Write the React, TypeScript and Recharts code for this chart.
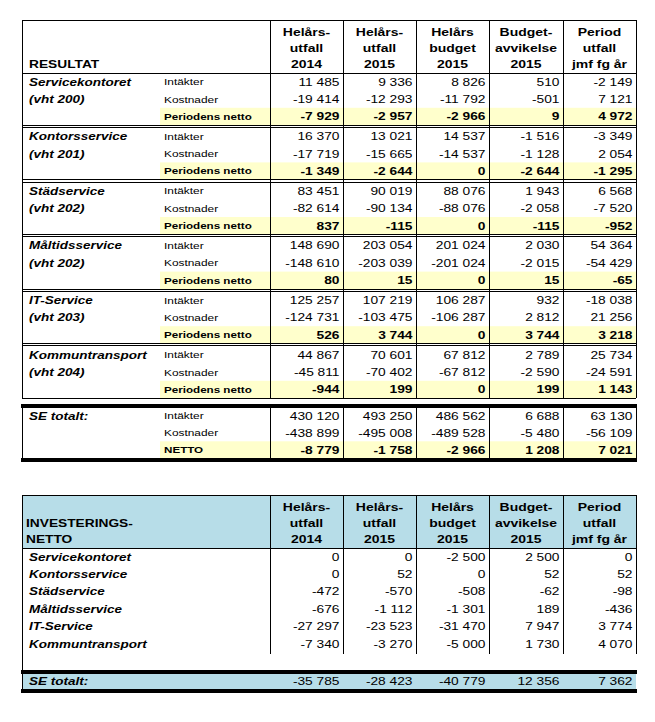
import React from 'react'
import { Surface, Layer } from 'recharts'

// resultat table
const resultGroups = ['Servicekontoret', 'Kontorsservice', 'Städservice', 'Måltidsservice', 'IT-Service', 'Kommuntransport']
const resultCodes = ['(vht 200)', '(vht 201)', '(vht 202)', '(vht 202)', '(vht 203)', '(vht 204)']
const intakter = [
  [11485, 9336, 8826, 510, -2149],
  [16370, 13021, 14537, -1516, -3349],
  [83451, 90019, 88076, 1943, 6568],
  [148690, 203054, 201024, 2030, 54364],
  [125257, 107219, 106287, 932, -18038],
  [44867, 70601, 67812, 2789, 25734],
]
const kostnader = [
  [-19414, -12293, -11792, -501, 7121],
  [-17719, -15665, -14537, -1128, 2054],
  [-82614, -90134, -88076, -2058, -7520],
  [-148610, -203039, -201024, -2015, -54429],
  [-124731, -103475, -106287, 2812, 21256],
  [-45811, -70402, -67812, -2590, -24591],
]
const netto = [
  [-7929, -2957, -2966, 9, 4972],
  [-1349, -2644, 0, -2644, -1295],
  [837, -115, 0, -115, -952],
  [80, 15, 0, 15, -65],
  [526, 3744, 0, 3744, 3218],
  [-944, 199, 0, 199, 1143],
]
const seIntakter = [430120, 493250, 486562, 6688, 63130]
const seKostnader = [-438899, -495008, -489528, -5480, -56109]
const seNetto = [-8779, -1758, -2966, 1208, 7021]

// investeringar table
const investLabels = ['Servicekontoret', 'Kontorsservice', 'Städservice', 'Måltidsservice', 'IT-Service', 'Kommuntransport']
const investValues = [
  [0, 0, -2500, 2500, 0],
  [0, 52, 0, 52, 52],
  [-472, -570, -508, -62, -98],
  [-676, -1112, -1301, 189, -436],
  [-27297, -23523, -31470, 7947, 3774],
  [-7340, -3270, -5000, 1730, 4070],
]
const investTotal = [-35785, -28423, -40779, 12356, 7362]

const headerLines = [
  ['Helårs-', 'utfall', '2014'],
  ['Helårs-', 'utfall', '2015'],
  ['Helårs', 'budget', '2015'],
  ['Budget-', 'avvikelse', '2015'],
  ['Period', 'utfall', 'jmf fg år'],
]

const W = 655
const H = 722
const SX = 1.25
const FONT = 'Liberation Sans, Arial, sans-serif'
const YELLOW = '#ffffcc'
const BLUE = '#b7dde8'

const X0 = 22
const XSUB = 164
const COLS = [270, 343, 416, 489, 563, 636]
const ROW = 17.4

const fmt = (v: number) => {
  const s = Math.abs(v).toString().replace(/\B(?=(\d{3})+(?!\d))/g, ' ')
  return (v < 0 ? '-' : '') + s
}

function T({ x, y, size, bold, italic, anchor = 'start', children }: any) {
  return (
    <text
      transform={`translate(${x},${y}) scale(${SX},1)`}
      fontSize={size}
      fontWeight={bold ? 'bold' : 'normal'}
      fontStyle={italic ? 'italic' : 'normal'}
      textAnchor={anchor}
      fontFamily={FONT}
      fill="#000"
    >
      {children}
    </text>
  )
}

function L({ x1, y1, x2, y2, w = 1 }: any) {
  return <line x1={x1} y1={y1} x2={x2} y2={y2} stroke="#000" strokeWidth={w} shapeRendering="crispEdges" />
}

// baseline for text centered on row middle
const base = (c: number, size: number) => c + size * 0.36

function NumRow({ values, center, bold }: { values: number[]; center: number; bold?: boolean }) {
  return (
    <>
      {values.map((v, i) => (
        <T key={i} x={COLS[i + 1] - 3.5} y={base(center, 11)} size={11} bold={bold} anchor="end">
          {fmt(v)}
        </T>
      ))}
    </>
  )
}

function Header({ top }: { top: number }) {
  return (
    <>
      {headerLines.map((lines, i) =>
        lines.map((t, j) => (
          <T key={`${i}-${j}`} x={(COLS[i] + COLS[i + 1]) / 2} y={top + 15.5 + j * 16.2} size={11.2} bold anchor="middle">
            {t}
          </T>
        ))
      )}
    </>
  )
}

function VLines({ y1, y2, withLeft = true }: { y1: number; y2: number; withLeft?: boolean }) {
  return (
    <>
      {withLeft && <L x1={X0} y1={y1} x2={X0} y2={y2} />}
      {COLS.map((x) => (
        <L key={x} x1={x} y1={y1} x2={x} y2={y2} />
      ))}
    </>
  )
}

export default function App() {
  const T1 = 20
  const H1 = 73
  const PITCH = 54.6
  const groupTop = (g: number) => H1 + g * PITCH
  const lastEnd = groupTop(5) + 3 * ROW
  const seTop = 407.5
  const seRow = 16.9

  const T2 = 495
  const H2 = 548
  const invEnd = H2 + 6 * ROW
  const tot1 = 672
  const tot2 = 691

  return (
    <Surface width={W} height={H} style={{ position: 'absolute', left: 0, top: 0, background: '#fff' }}>
      <rect x={0} y={0} width={W} height={H} fill="#fff" />

      {/* ---------- RESULTAT ---------- */}
      <Layer>
        {resultGroups.map((_, g) => (
          <rect key={g} x={160} y={groupTop(g) + 2 * ROW} width={COLS[5] - 160} height={ROW} fill={YELLOW} />
        ))}
        <rect x={160} y={seTop + 2 * seRow} width={COLS[5] - 160} height={seRow} fill={YELLOW} />

        <L x1={X0} y1={T1} x2={COLS[5]} y2={T1} />
        <L x1={X0} y1={H1} x2={COLS[5]} y2={H1} />
        {resultGroups.map((_, g) =>
          g < 5 ? (
            <React.Fragment key={g}>
              <L x1={X0} y1={groupTop(g) + 3 * ROW} x2={COLS[5]} y2={groupTop(g) + 3 * ROW} />
              <L x1={X0} y1={groupTop(g) + 3 * ROW + 2.2} x2={COLS[5]} y2={groupTop(g) + 3 * ROW + 2.2} />
            </React.Fragment>
          ) : null
        )}
        <L x1={X0} y1={lastEnd} x2={COLS[5]} y2={lastEnd} />
        <VLines y1={T1} y2={lastEnd} />
        <VLines y1={seTop} y2={seTop + 3 * seRow} />
        <L x1={X0 - 1} y1={seTop - 1.5} x2={COLS[5] + 1} y2={seTop - 1.5} w={4} />
        <L x1={X0 - 1} y1={seTop + 3 * seRow + 2} x2={COLS[5] + 1} y2={seTop + 3 * seRow + 2} w={4} />

        <Header top={T1} />
        <T x={29} y={T1 + 48} size={11} bold>RESULTAT</T>

        {resultGroups.map((name, g) => {
          const t = groupTop(g)
          const c = (r: number) => t + r * ROW + ROW / 2
          return (
            <React.Fragment key={name}>
              <T x={29} y={base(c(0), 10.8)} size={10.8} bold italic>{name}</T>
              <T x={29} y={base(c(1), 10.8)} size={10.8} bold italic>{resultCodes[g]}</T>
              <T x={XSUB} y={base(c(0), 9.5)} size={9.5}>Intäkter</T>
              <T x={XSUB} y={base(c(1), 9.5)} size={9.5}>Kostnader</T>
              <T x={XSUB} y={base(c(2), 9.3)} size={9.3} bold>Periodens netto</T>
              <NumRow values={intakter[g]} center={c(0)} />
              <NumRow values={kostnader[g]} center={c(1)} />
              <NumRow values={netto[g]} center={c(2)} bold />
            </React.Fragment>
          )
        })}

        {(() => {
          const c = (r: number) => seTop + r * seRow + seRow / 2
          return (
            <>
              <T x={29} y={base(c(0), 10.8)} size={10.8} bold italic>SE totalt:</T>
              <T x={XSUB} y={base(c(0), 9.5)} size={9.5}>Intäkter</T>
              <T x={XSUB} y={base(c(1), 9.5)} size={9.5}>Kostnader</T>
              <T x={XSUB} y={base(c(2), 9.3)} size={9.3} bold>NETTO</T>
              <NumRow values={seIntakter} center={c(0)} />
              <NumRow values={seKostnader} center={c(1)} />
              <NumRow values={seNetto} center={c(2)} bold />
            </>
          )
        })()}
      </Layer>

      {/* ---------- INVESTERINGSNETTO ---------- */}
      <Layer>
        <rect x={X0} y={T2} width={COLS[5] - X0} height={H2 - T2} fill={BLUE} />
        <rect x={X0} y={tot1 + 2} width={COLS[5] - X0} height={tot2 - tot1 - 4} fill={BLUE} />
        <L x1={X0} y1={T2} x2={COLS[5]} y2={T2} />
        <L x1={X0} y1={H2} x2={COLS[5]} y2={H2} />
        <VLines y1={T2} y2={invEnd + 2} />
        <L x1={X0} y1={invEnd} x2={X0} y2={tot2} />
        <L x1={X0 - 1} y1={tot1} x2={COLS[5] + 1} y2={tot1} w={4} />
        <L x1={X0 - 1} y1={tot2} x2={COLS[5] + 1} y2={tot2} w={4} />

        <Header top={T2} />
        <T x={26} y={T2 + 31.7} size={11} bold>INVESTERINGS-</T>
        <T x={26} y={T2 + 47.9} size={11} bold>NETTO</T>

        {investLabels.map((name, i) => {
          const c = H2 + i * ROW + ROW / 2
          return (
            <React.Fragment key={name}>
              <T x={29} y={base(c, 10.8)} size={10.8} bold italic>{name}</T>
              <NumRow values={investValues[i]} center={c} />
            </React.Fragment>
          )
        })}
        <T x={29} y={base((tot1 + tot2) / 2, 10.8)} size={10.8} bold italic>SE totalt:</T>
        <NumRow values={investTotal} center={(tot1 + tot2) / 2} />
      </Layer>
    </Surface>
  )
}
